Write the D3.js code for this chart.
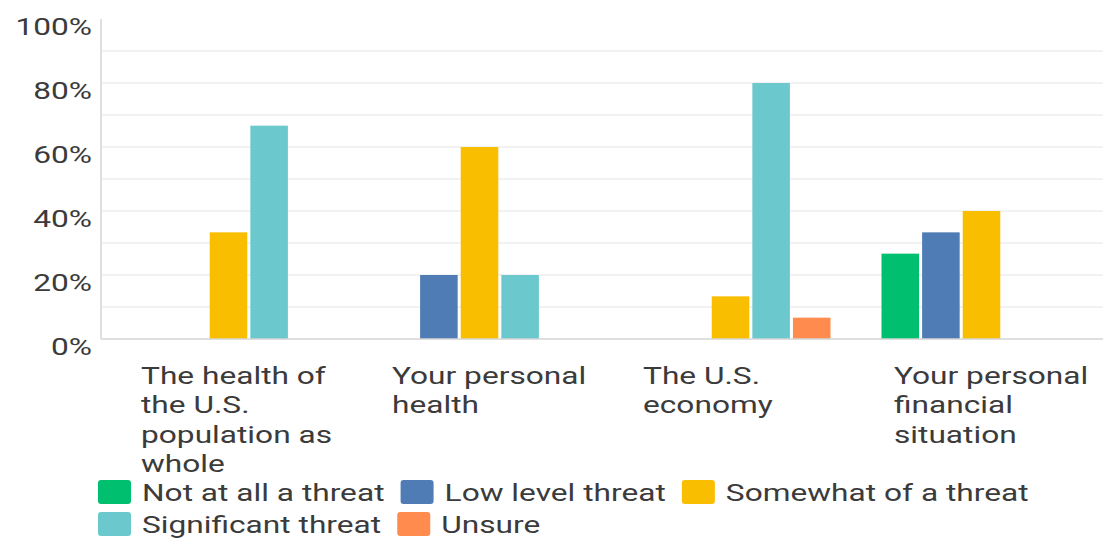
<!DOCTYPE html>
<html>
<head>
<meta charset="utf-8">
<script src="https://cdn.jsdelivr.net/npm/d3@7"></script>
<style>
  body { margin: 0; background: #fff; }
  text { font-family: Roboto, "Liberation Sans", sans-serif; fill: #3b3b3b; }
</style>
</head>
<body>
<div id="chart"></div>
<script>
// categories (wrapped the way the picture shows them)
const categories = ["health_pop", "personal_health", "economy", "personal_finance"];
const categoryLines = [
  ["The health of", "the U.S.", "population as", "whole"],
  ["Your personal", "health"],
  ["The U.S.", "economy"],
  ["Your personal", "financial", "situation"]
];

// answer options, one series each
const seriesNames = ["Not at all a threat", "Low level threat", "Somewhat of a threat", "Significant threat", "Unsure"];
const seriesColors = ["#00bf6f", "#507cb6", "#f9be00", "#6bc8cd", "#ff8b4f"];

// percent of respondents, per series, in category order
const notAtAll    = [0, 0, 0, 26.67];
const lowLevel    = [0, 20, 0, 33.33];
const somewhat    = [33.33, 60, 13.33, 40];
const significant = [66.67, 20, 80, 0];
const unsure      = [0, 0, 6.67, 0];
const seriesValues = [notAtAll, lowLevel, somewhat, significant, unsure];

const yTicks = [0, 20, 40, 60, 80, 100];
const gridTicks = [10, 20, 30, 40, 50, 60, 70, 80, 90];

const W = 1103, H = 539;
const fontSize = 24;
const sx = 1.32; // the picture's text is stretched sideways

const svg = d3.select("#chart").append("svg")
    .attr("width", W)
    .attr("height", H);

// scales
const x0 = d3.scaleBand().domain(categories).range([103, 1107]);
const half = x0.bandwidth() / 2;
const x1 = d3.scaleBand().domain(seriesNames)
    .range([half - 100, half + 100])
    .paddingInner(0.075);
const y = d3.scaleLinear().domain([0, 100]).range([339, 19]);

// gridlines
svg.append("g").selectAll("line")
  .data(gridTicks)
  .join("line")
    .attr("x1", 102).attr("x2", W)
    .attr("y1", d => y(d)).attr("y2", d => y(d))
    .attr("stroke", "#eeeeee")
    .attr("stroke-width", 1.5);

// bars
const rows = [];
categories.forEach((c, i) => {
  seriesNames.forEach((s, j) => {
    rows.push({ cat: c, series: s, color: seriesColors[j], value: seriesValues[j][i] });
  });
});

svg.append("g").selectAll("rect")
  .data(rows.filter(d => d.value > 0))
  .join("rect")
    .attr("x", d => x0(d.cat) + x1(d.series))
    .attr("y", d => y(d.value))
    .attr("width", x1.bandwidth())
    .attr("height", d => y(0) - y(d.value))
    .attr("fill", d => d.color);

// axis lines
svg.append("line")
    .attr("x1", 101).attr("x2", 101)
    .attr("y1", y(100)).attr("y2", y(0))
    .attr("stroke", "#d4d4d4").attr("stroke-width", 1.5);
svg.append("line")
    .attr("x1", 101).attr("x2", W)
    .attr("y1", y(0)).attr("y2", y(0))
    .attr("stroke", "#d4d4d4").attr("stroke-width", 1.5);

// y labels, sitting a little below their line like in the picture
svg.append("g").selectAll("text")
  .data(yTicks)
  .join("text")
    .attr("transform", d => `translate(92,${y(d) + 16}) scale(${sx},1)`)
    .attr("text-anchor", "end")
    .style("font-size", fontSize + "px")
    .text(d => d + "%");

// category labels
const catG = svg.append("g").selectAll("g")
  .data(categories)
  .join("g")
    .attr("transform", d => `translate(${x0(d) + 38},384) scale(${sx},1)`);

catG.each(function(d, i) {
  d3.select(this).selectAll("text")
    .data(categoryLines[i])
    .join("text")
      .attr("y", (t, k) => k * 29.5)
      .style("font-size", fontSize + "px")
      .text(t => t);
});

// legend, flowing into rows
const legend = svg.append("g");
let lx = 98, ly = 480;
seriesNames.forEach((s, j) => {
  const item = legend.append("g");
  const label = item.append("text")
    .style("font-size", fontSize + "px")
    .text(s);
  const tw = label.node().getComputedTextLength() * sx;
  if (lx + 44 + tw > W - 20) { lx = 98; ly += 32; }
  item.append("rect")
    .attr("x", lx).attr("y", ly)
    .attr("width", 33).attr("height", 24)
    .attr("rx", 3)
    .attr("fill", seriesColors[j]);
  label.attr("transform", `translate(${lx + 44},${ly + 21}) scale(${sx},1)`);
  lx += 44 + tw + 16;
});
</script>
</body>
</html>
